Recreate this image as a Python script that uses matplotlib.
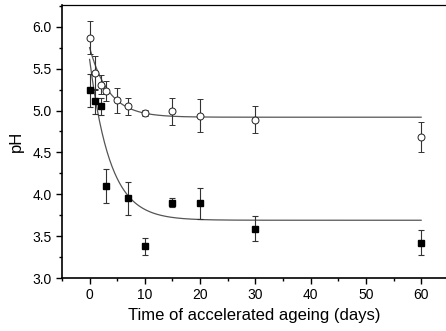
import numpy as np
import matplotlib
matplotlib.use('Agg')
import matplotlib.pyplot as plt
from matplotlib.ticker import MultipleLocator

plt.rcParams['font.family'] = ['Liberation Sans', 'DejaVu Sans']

# open circles
days_open = [0, 1, 2, 3, 5, 7, 10, 15, 20, 30, 60]
ph_open = [5.87, 5.45, 5.31, 5.23, 5.12, 5.05, 4.97, 4.99, 4.94, 4.89, 4.68]
err_open = [0.20, 0.20, 0.11, 0.12, 0.15, 0.10, 0.04, 0.16, 0.20, 0.16, 0.18]

# filled squares
days_fill = [0, 1, 2, 3, 7, 10, 15, 20, 30, 60]
ph_fill = [5.24, 5.11, 5.05, 4.10, 3.95, 3.38, 3.90, 3.89, 3.59, 3.42]
err_fill = [0.20, 0.15, 0.10, 0.20, 0.20, 0.10, 0.05, 0.18, 0.15, 0.15]

# exponential decay fits: y = y0 + A*exp(-x/t)
fit_open = (4.92, 0.83, 3.5)
fit_fill = (3.69, 1.92, 3.7)

fig = plt.figure(figsize=(4.46, 3.31), dpi=100)
ax = fig.add_axes([0.139, 0.160, 0.861, 0.825])

xf = np.linspace(0, 60, 400)
for y0, a, t in (fit_open, fit_fill):
    ax.plot(xf, y0 + a * np.exp(-xf / t), color='#555555', lw=0.9, zorder=1)

ax.errorbar(days_open, ph_open, yerr=err_open, fmt='o', ms=5, mfc='white',
            mec='#222222', mew=0.7, ecolor='#333333', elinewidth=0.8,
            capsize=2.5, capthick=0.8, zorder=3)
ax.errorbar(days_fill, ph_fill, yerr=err_fill, fmt='s', ms=5, mfc='black',
            mec='black', ecolor='#333333', elinewidth=0.8,
            capsize=2.5, capthick=0.8, zorder=3)

ax.set_xlim(-5, 64.5)
ax.set_ylim(3.0, 6.26)
ax.xaxis.set_major_locator(MultipleLocator(10))
ax.xaxis.set_minor_locator(MultipleLocator(5))
ax.yaxis.set_major_locator(MultipleLocator(0.5))
ax.yaxis.set_minor_locator(MultipleLocator(0.25))
ax.tick_params(which='major', direction='out', length=4, width=1, labelsize=10)
ax.tick_params(which='minor', direction='out', length=2, width=1)
ax.spines['right'].set_visible(False)
for s in ('left', 'bottom'):
    ax.spines[s].set_linewidth(1.2)
ax.spines['top'].set_linewidth(0.9)

ax.set_xlabel('Time of accelerated ageing (days)', fontsize=12, labelpad=4)
ax.set_ylabel('pH', fontsize=12, labelpad=6)

fig.savefig('out.png', dpi=100)
